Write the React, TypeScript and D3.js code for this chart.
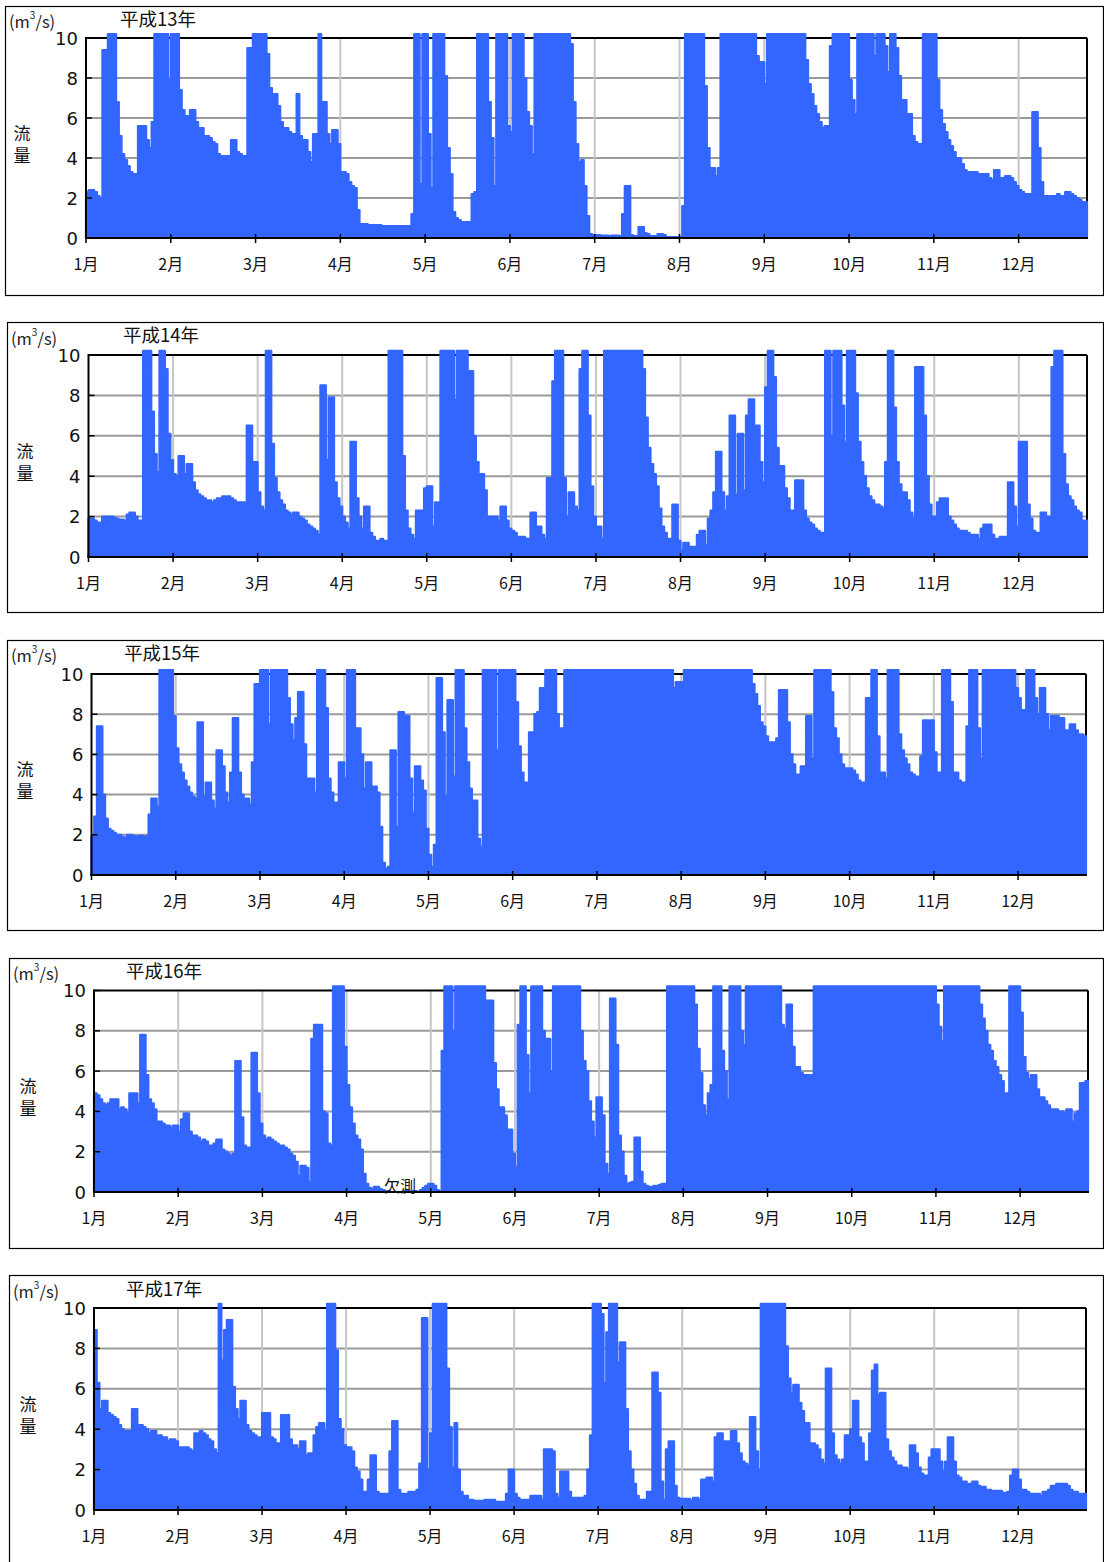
import React from "react";
import * as d3 from "d3";

// Daily discharge (m3/s). Values of 12 mean "off scale" (> 10, drawn clipped at the top).
const H13 = [
  2.3, 2.4, 2.4, 2.3, 2.1, 2.0, 9.4, 9.4, 12, 12,
  12, 6.8, 5.1, 4.2, 3.9, 3.6, 3.3, 3.2, 3.2, 5.6,
  5.6, 5.6, 4.9, 4.5, 5.8, 12, 12, 12, 12, 12,
  7.9, 12, 12, 12, 7.4, 6.4, 6.1, 6.1, 6.4, 6.4,
  5.8, 5.5, 5.5, 5.1, 5.1, 5.0, 4.8, 4.7, 4.2, 4.1,
  4.1, 4.1, 4.1, 4.9, 4.9, 4.3, 4.2, 4.1, 4.1, 9.5,
  9.5, 12, 12, 12, 12, 12, 9.2, 7.5, 7.2, 7.2,
  6.6, 5.8, 5.5, 5.5, 5.3, 5.2, 5.2, 7.2, 5.1, 4.9,
  4.9, 4.3, 3.8, 5.2, 5.2, 12, 6.8, 6.8, 5.2, 4.7,
  5.4, 5.4, 4.7, 3.3, 3.3, 3.2, 2.8, 2.6, 2.5, 1.4,
  0.7, 0.7, 0.7, 0.65, 0.65, 0.65, 0.65, 0.65, 0.6, 0.6,
  0.6, 0.6, 0.6, 0.6, 0.6, 0.6, 0.6, 0.6, 0.6, 1.2,
  12, 12, 2.7, 12, 12, 5.2, 2.5, 12, 12, 12,
  12, 8.1, 4.5, 3.2, 1.3, 1.0, 0.9, 0.8, 0.8, 0.8,
  0.8, 2.2, 2.3, 12, 12, 12, 12, 6.8, 5.0, 2.6,
  12, 12, 12, 12, 5.6, 5.3, 12, 12, 12, 12,
  8.0, 6.3, 5.6, 4.2, 12, 12, 12, 12, 12, 12,
  12, 12, 12, 12, 12, 12, 12, 9.7, 6.8, 4.7,
  3.8, 3.9, 2.6, 1.1, 0.2, 0.15, 0.15, 0.15, 0.12, 0.12,
  0.12, 0.1, 0.12, 0.12, 0.12, 0.1, 1.2, 2.6, 2.6, 0.15,
  0.1, 0.1, 0.55, 0.55, 0.25, 0.2, 0.1, 0.1, 0.1, 0.2,
  0.2, 0.15, 0.05, 0.05, 0.05, 0.05, 0.05, 0.05, 1.6, 12,
  12, 12, 12, 12, 12, 12, 7.6, 4.5, 3.5, 3.5,
  3.1, 3.5, 12, 12, 12, 12, 12, 12, 12, 12,
  12, 12, 12, 12, 12, 9.1, 8.8, 8.8, 7.7, 12,
  12, 12, 12, 12, 12, 12, 12, 12, 12, 12,
  12, 12, 12, 8.9, 7.7, 7.2, 6.6, 6.2, 5.8, 5.5,
  5.6, 5.6, 9.6, 12, 12, 12, 12, 12, 12, 7.9,
  6.9, 6.2, 12, 12, 12, 12, 12, 12, 9.1, 12,
  12, 12, 9.6, 8.3, 12, 12, 9.5, 8.1, 6.9, 6.9,
  6.2, 6.2, 5.1, 4.8, 4.7, 4.7, 12, 12, 12, 12,
  12, 7.9, 6.4, 5.7, 5.3, 4.9, 4.6, 4.3, 4.0, 4.0,
  3.7, 3.4, 3.3, 3.3, 3.3, 3.3, 3.2, 3.2, 3.2, 3.2,
  3.0, 2.9, 3.4, 3.4, 3.0, 3.0, 3.1, 3.1, 3.0, 2.8,
  2.6, 2.4, 2.3, 2.2, 2.2, 2.2, 6.3, 6.3, 4.5, 2.8,
  2.1, 2.1, 2.1, 2.1, 2.1, 2.2, 2.1, 2.1, 2.3, 2.3,
  2.2, 2.1, 2.0, 1.9, 1.8, 1.8,
];

const H14 = [
  1.9, 1.9, 1.8, 1.7, 1.7, 2.0, 2.0, 2.0, 2.0, 1.95,
  1.9, 1.85, 1.85, 1.8, 2.1, 2.2, 2.2, 2.0, 1.8, 1.8,
  12, 12, 12, 7.2, 5.1, 4.2, 12, 12, 9.3, 6.1,
  4.8, 4.1, 4.0, 5.0, 5.0, 4.1, 4.6, 4.6, 3.7, 3.3,
  3.1, 3.0, 2.9, 2.8, 2.8, 2.7, 2.8, 2.9, 2.9, 3.0,
  3.0, 3.0, 2.9, 2.8, 2.7, 2.7, 2.7, 2.7, 6.5, 6.5,
  4.7, 4.7, 3.2, 2.5, 2.3, 12, 12, 5.6, 3.9, 3.2,
  2.8, 2.6, 2.3, 2.2, 2.1, 2.2, 2.2, 2.0, 1.9, 1.8,
  1.6, 1.5, 1.4, 1.3, 1.1, 8.5, 8.5, 4.8, 7.9, 7.9,
  3.7, 2.9, 2.5, 2.0, 1.7, 1.4, 5.7, 5.7, 2.9, 2.0,
  1.4, 2.5, 2.5, 1.2, 1.0, 0.8, 0.8, 0.9, 0.8, 0.8,
  12, 12, 12, 12, 12, 5.0, 2.3, 1.4, 1.1, 0.9,
  2.3, 2.3, 2.3, 3.4, 3.5, 3.5, 1.5, 2.7, 2.7, 12,
  12, 12, 12, 12, 7.8, 12, 12, 12, 12, 9.2,
  9.2, 6.0, 4.7, 4.1, 4.1, 3.3, 2.0, 2.0, 2.0, 2.0,
  1.8, 2.5, 2.5, 1.8, 1.4, 1.3, 1.2, 1.0, 1.0, 1.0,
  0.9, 0.9, 2.2, 2.2, 1.5, 1.5, 1.1, 0.9, 3.9, 3.9,
  8.7, 12, 12, 12, 3.9, 2.0, 3.2, 3.2, 2.5, 2.3,
  9.3, 12, 12, 7.0, 3.5, 2.0, 1.5, 1.5, 0.9, 12,
  12, 12, 12, 12, 12, 12, 12, 12, 12, 12,
  12, 12, 12, 9.3, 6.9, 5.4, 4.6, 4.1, 3.5, 2.4,
  1.5, 1.2, 0.9, 0.9, 2.6, 2.6, 0.8, 0.3, 0.7, 0.7,
  0.5, 0.5, 0.5, 1.1, 1.3, 1.3, 0.6, 1.9, 2.3, 3.2,
  5.2, 5.2, 3.2, 2.3, 3.0, 7.0, 7.0, 3.1, 6.1, 6.1,
  3.3, 7.0, 7.8, 7.8, 6.5, 6.5, 4.7, 3.7, 8.4, 12,
  12, 8.9, 5.4, 4.5, 4.5, 3.4, 2.9, 2.3, 2.3, 3.8,
  3.8, 3.8, 2.3, 1.9, 1.7, 1.6, 1.4, 1.3, 1.2, 1.2,
  12, 12, 6.0, 12, 12, 12, 7.5, 5.7, 12, 12,
  12, 8.1, 5.7, 4.7, 4.0, 3.4, 3.0, 2.8, 2.6, 2.6,
  2.5, 2.4, 4.7, 12, 12, 7.4, 4.7, 3.6, 3.2, 3.2,
  2.8, 2.2, 1.9, 9.4, 9.4, 9.4, 7.0, 4.0, 2.6, 2.0,
  2.0, 2.7, 2.9, 2.9, 2.9, 2.0, 1.8, 1.6, 1.4, 1.3,
  1.3, 1.3, 1.2, 1.1, 1.1, 1.1, 0.9, 1.4, 1.6, 1.6,
  1.6, 1.1, 0.9, 0.9, 1.0, 1.0, 1.0, 3.7, 3.7, 2.5,
  1.5, 5.7, 5.7, 5.7, 2.6, 1.9, 1.3, 1.2, 1.2, 2.2,
  2.2, 2.0, 2.0, 9.4, 12, 12, 12, 5.1, 3.6, 3.0,
  2.8, 2.5, 2.3, 2.2, 1.8, 1.8,
];

const H15 = [
  1.9, 2.9, 7.4, 7.4, 4.0, 2.8, 2.3, 2.2, 2.1, 2.0,
  2.0, 1.9, 1.85, 2.0, 2.0, 1.95, 1.9, 1.95, 1.95, 1.9,
  1.95, 3.0, 3.8, 3.8, 3.4, 12, 12, 12, 12, 12,
  7.9, 6.3, 5.5, 5.1, 4.7, 4.4, 4.1, 3.9, 3.8, 7.6,
  7.6, 3.9, 4.6, 4.6, 3.7, 3.3, 6.2, 6.2, 5.4, 4.1,
  3.6, 5.1, 7.8, 7.8, 5.1, 4.0, 3.8, 3.8, 3.5, 5.6,
  9.5, 9.5, 12, 12, 12, 7.5, 12, 12, 12, 12,
  12, 12, 8.8, 7.5, 6.7, 7.8, 9.1, 9.1, 6.5, 4.8,
  4.8, 4.8, 4.1, 12, 12, 12, 8.3, 4.8, 4.1, 3.6,
  3.6, 5.6, 5.6, 4.8, 12, 12, 12, 7.3, 7.3, 6.0,
  4.3, 5.6, 5.6, 4.4, 4.4, 4.1, 2.4, 0.6, 0.3, 0.4,
  6.2, 6.2, 2.4, 8.1, 8.1, 7.9, 7.9, 4.8, 3.1, 5.4,
  5.4, 4.7, 4.2, 2.3, 1.0, 0.4, 1.5, 9.8, 9.8, 7.1,
  3.9, 8.7, 8.7, 4.9, 12, 12, 12, 7.3, 5.6, 4.3,
  3.7, 3.7, 1.8, 1.4, 12, 12, 12, 12, 12, 6.2,
  12, 12, 12, 12, 12, 12, 8.6, 6.4, 5.1, 4.6,
  4.6, 7.1, 7.1, 8.0, 8.1, 9.3, 9.3, 12, 12, 12,
  12, 8.0, 7.3, 7.3, 12, 12, 12, 12, 12, 12,
  12, 12, 12, 12, 12, 12, 12, 12, 12, 12,
  12, 12, 12, 12, 12, 12, 12, 12, 12, 12,
  12, 12, 12, 12, 12, 12, 12, 12, 12, 12,
  12, 12, 12, 12, 9.3, 9.6, 9.6, 9.6, 12, 12,
  12, 12, 12, 12, 12, 12, 12, 12, 12, 12,
  12, 12, 12, 12, 12, 12, 12, 12, 12, 12,
  12, 12, 12, 9.5, 9.0, 8.4, 7.6, 7.4, 6.9, 6.6,
  6.6, 6.6, 6.8, 9.2, 9.2, 9.2, 7.6, 6.0, 5.5, 5.0,
  5.0, 5.4, 5.4, 7.9, 7.9, 5.8, 12, 12, 12, 12,
  12, 12, 9.1, 7.3, 6.8, 6.0, 5.5, 5.3, 5.3, 5.3,
  5.2, 5.0, 4.7, 4.6, 4.6, 8.8, 8.8, 12, 12, 6.9,
  5.1, 5.1, 4.8, 12, 12, 12, 12, 7.0, 6.2, 5.8,
  5.5, 5.1, 5.0, 4.9, 4.9, 5.9, 7.7, 7.7, 7.7, 7.7,
  6.1, 5.1, 5.1, 12, 12, 12, 8.6, 5.1, 5.1, 4.7,
  4.6, 4.6, 7.4, 12, 12, 12, 7.3, 5.8, 12, 12,
  12, 12, 12, 12, 12, 12, 12, 12, 12, 12,
  9.3, 8.8, 8.2, 8.2, 12, 12, 12, 8.8, 8.0, 9.3,
  9.3, 8.0, 7.2, 7.9, 7.9, 7.9, 7.8, 7.8, 7.2, 7.2,
  7.5, 7.5, 7.2, 7.0, 7.0, 6.9,
];

const H16 = [
  4.9, 4.8, 4.6, 4.4, 4.3, 4.4, 4.6, 4.6, 4.6, 4.1,
  4.2, 4.1, 3.9, 4.9, 4.9, 4.9, 4.4, 7.8, 7.8, 5.8,
  4.6, 4.4, 4.1, 3.5, 3.5, 3.4, 3.3, 3.3, 3.2, 3.3,
  3.3, 3.0, 3.6, 3.9, 3.9, 3.0, 2.8, 2.8, 2.7, 2.5,
  2.6, 2.5, 2.3, 2.3, 2.4, 2.6, 2.6, 2.1, 2.0, 1.9,
  1.8, 1.9, 6.5, 6.5, 3.7, 2.3, 2.2, 2.2, 6.9, 6.9,
  4.9, 3.4, 2.8, 2.6, 2.7, 2.6, 2.5, 2.4, 2.3, 2.3,
  2.2, 2.1, 1.9, 1.8, 1.5, 0.8, 1.3, 1.3, 1.2, 0.5,
  7.6, 8.3, 8.3, 8.3, 4.0, 3.9, 2.4, 2.3, 12, 12,
  12, 12, 7.2, 5.3, 4.2, 3.4, 2.8, 2.6, 2.1, 0.9,
  0.4, 0.2, 0.15, 0.25, 0.25, 0.15, 0.1, 0.05, 0.05, 0,
  0, 0, 0, 0, 0.05, 0.1, 0.05, 0.05, 0.05, 0,
  0.1, 0.2, 0.3, 0.4, 0.4, 0.3, 0.1, 0.05, 7.0, 12,
  12, 12, 8.0, 12, 12, 12, 12, 12, 12, 12,
  12, 12, 12, 12, 9.5, 9.5, 9.5, 6.4, 5.1, 4.2,
  4.2, 3.8, 3.1, 3.1, 1.9, 1.25, 8.3, 12, 12, 6.8,
  4.9, 12, 12, 12, 12, 8.0, 7.6, 7.6, 6.0, 12,
  12, 12, 12, 12, 12, 12, 12, 12, 12, 8.0,
  6.5, 6.0, 4.5, 3.5, 2.7, 4.7, 4.7, 3.8, 1.4, 0.9,
  9.6, 9.6, 7.3, 2.8, 2.0, 0.8, 0.4, 0.45, 0.5, 2.7,
  2.7, 1.0, 0.4, 0.3, 0.25, 0.25, 0.3, 0.3, 0.35, 0.4,
  0.4, 12, 12, 12, 12, 12, 12, 12, 12, 12,
  12, 9.3, 7.1, 5.9, 4.3, 3.8, 4.9, 5.3, 12, 12,
  12, 7.0, 6.0, 4.6, 12, 12, 12, 12, 8.0, 7.3,
  12, 12, 12, 12, 12, 12, 12, 12, 12, 12,
  12, 12, 12, 8.3, 8.1, 9.3, 9.3, 7.2, 6.2, 6.2,
  5.9, 5.8, 5.8, 5.8, 5.8, 12, 12, 12, 12, 12,
  12, 12, 12, 12, 12, 12, 12, 12, 12, 12,
  12, 12, 12, 12, 12, 12, 12, 12, 12, 12,
  12, 12, 12, 12, 12, 12, 12, 12, 12, 12,
  12, 12, 12, 12, 12, 12, 12, 12, 12, 12,
  9.3, 8.2, 7.5, 12, 12, 12, 12, 12, 12, 12,
  12, 12, 12, 12, 12, 12, 9.3, 8.6, 8.0, 7.3,
  7.0, 6.5, 6.2, 5.8, 5.5, 4.9, 4.9, 12, 12, 12,
  12, 8.9, 6.7, 5.9, 5.6, 5.8, 5.8, 5.1, 4.7, 4.7,
  4.5, 4.3, 4.1, 4.1, 4.1, 4.0, 4.0, 3.9, 4.1, 4.1,
  3.5, 3.9, 4.0, 5.4, 5.4, 5.5,
];

const H17 = [
  8.9, 6.3, 5.0, 5.4, 5.4, 4.8, 4.7, 4.6, 4.5, 4.2,
  4.0, 3.9, 3.9, 3.9, 5.0, 5.0, 4.2, 4.2, 4.1, 4.0,
  3.8, 3.9, 3.9, 3.7, 3.7, 3.6, 3.6, 3.4, 3.5, 3.5,
  3.4, 3.1, 3.1, 3.1, 3.1, 3.0, 2.9, 3.8, 3.8, 3.9,
  3.8, 3.7, 3.5, 3.4, 3.0, 2.8, 12, 7.4, 8.9, 9.4,
  9.4, 6.1, 5.0, 4.5, 5.4, 5.4, 4.2, 3.9, 3.8, 3.7,
  3.6, 3.6, 4.8, 4.8, 4.8, 3.6, 3.5, 3.3, 3.3, 4.7,
  4.7, 4.7, 3.5, 3.2, 3.2, 3.0, 3.4, 3.4, 2.7, 2.8,
  2.8, 3.7, 4.1, 4.3, 4.3, 3.9, 12, 12, 12, 7.9,
  4.5, 4.0, 3.2, 3.1, 3.1, 2.9, 2.1, 1.9, 1.5, 0.9,
  0.9, 1.5, 2.7, 2.7, 0.9, 0.8, 0.8, 0.8, 0.8, 2.9,
  4.4, 4.4, 1.0, 0.8, 0.8, 0.8, 0.9, 0.9, 0.9, 1.0,
  2.3, 9.5, 9.5, 2.0, 3.8, 12, 12, 12, 12, 12,
  7.0, 4.1, 2.1, 4.3, 2.0, 0.9, 0.7, 0.7, 0.5, 0.5,
  0.45, 0.45, 0.45, 0.45, 0.5, 0.5, 0.5, 0.5, 0.4, 0.4,
  0.4, 0.4, 0.8, 2.0, 2.0, 0.8, 0.6, 0.5, 0.5, 0.5,
  0.5, 0.7, 0.7, 0.7, 0.7, 0.5, 3.0, 3.0, 3.0, 2.9,
  0.8, 0.6, 1.9, 1.9, 1.9, 0.9, 0.6, 0.6, 0.6, 0.6,
  0.6, 0.7, 2.0, 3.7, 12, 12, 12, 9.7, 6.3, 8.8,
  12, 12, 12, 7.3, 8.3, 8.3, 5.0, 2.9, 2.0, 1.3,
  0.7, 0.5, 0.5, 0.5, 0.9, 0.9, 6.8, 6.8, 5.8, 1.4,
  0.5, 3.0, 3.4, 3.4, 1.2, 0.6, 0.55, 0.55, 0.55, 0.55,
  0.45, 0.6, 0.6, 0.5, 1.5, 1.5, 1.6, 1.6, 1.4, 3.6,
  3.8, 3.8, 3.4, 3.4, 3.4, 3.9, 3.9, 3.3, 2.8, 2.4,
  2.3, 2.2, 4.6, 4.6, 2.9, 2.0, 12, 12, 12, 12,
  12, 12, 12, 12, 12, 8.1, 6.5, 5.8, 6.2, 6.2,
  5.3, 4.9, 4.3, 4.3, 3.3, 3.3, 3.2, 3.0, 2.5, 2.3,
  7.0, 7.0, 3.8, 2.7, 2.5, 2.3, 2.5, 3.7, 3.7, 4.0,
  5.4, 5.4, 3.6, 3.3, 2.4, 2.4, 3.8, 6.9, 7.2, 5.7,
  5.8, 5.8, 3.5, 2.9, 2.6, 2.4, 2.2, 2.2, 2.1, 2.1,
  2.0, 3.2, 3.2, 2.8, 2.1, 1.8, 1.7, 1.7, 2.6, 3.0,
  3.0, 3.0, 2.4, 1.9, 2.4, 3.6, 3.6, 2.4, 1.7, 1.6,
  1.4, 1.4, 1.3, 1.3, 1.4, 1.4, 1.2, 1.15, 1.15, 1.0,
  1.0, 0.95, 0.95, 0.95, 0.95, 0.85, 0.85, 0.9, 1.7, 2.0,
  2.0, 1.5, 1.0, 1.0, 0.9, 0.8, 0.8, 0.8, 0.8, 0.7,
  0.9, 0.9, 1.0, 1.2, 1.2, 1.3, 1.3, 1.3, 1.3, 1.2,
  1.0, 0.9, 0.9, 0.8, 0.8, 0.8,
];

const YEAR_TITLES = ["平成13年", "平成14年", "平成15年", "平成16年", "平成17年"];
const SERIES = [H13, H14, H15, H16, H17];
const MONTH_LABELS = ["1月", "2月", "3月", "4月", "5月", "6月", "7月", "8月", "9月", "10月", "11月", "12月"];
const Y_TICKS = [0, 2, 4, 6, 8, 10];
const GRID_Y = [2, 4, 6, 8];
const SLOTS = 366;
const LABEL_EVERY = 31;
const Y_MAX = 10;
const MISSING_NOTE = "欠測";

// Layout (pixel geometry of each framed panel)
const LAYOUT = [
  { box: [5.5, 6.5, 1103.5, 295.5], plot: [86, 38, 1087, 238], title: [120, 18], unit: [9, 21], flowX: 22 },
  { box: [7.5, 322.5, 1103.5, 612.5], plot: [88.5, 355, 1087, 557], title: [123, 334], unit: [11, 338], flowX: 25 },
  { box: [7.5, 640.5, 1103.5, 930.5], plot: [91.5, 674, 1086, 875], title: [124, 652], unit: [11, 655], flowX: 25 },
  { box: [9.5, 958.5, 1103.5, 1248.5], plot: [94, 990.5, 1088, 1192], title: [126, 970], unit: [13, 973], flowX: 28 },
  { box: [9.5, 1275.5, 1103.5, 1620], plot: [94, 1308, 1086, 1510], title: [126, 1288], unit: [13, 1291], flowX: 28 },
];

const BLUE = "#3366ff";
const CJK = "'Noto Sans CJK JP', 'Noto Sans', sans-serif";
const NUM = "'DejaVu Sans', 'Liberation Sans', sans-serif";

function Panel({ idx }: { idx: number }) {
  const L = LAYOUT[idx];
  const data = SERIES[idx];
  const [l, t, r, b] = L.plot;
  const x = d3.scaleBand<number>().domain(d3.range(SLOTS)).range([l, r]).paddingInner(0).paddingOuter(0);
  const bw = x.bandwidth();
  const y = d3.scaleLinear().domain([0, Y_MAX]).range([b, t]);
  const cap = (v: number) => Math.min(v, Y_MAX + 0.2);

  const pts: [number, number][] = data.map((v, i) => [x(i) as number, v]);
  pts.push([Math.min((x(0) as number) + data.length * bw, r), data[data.length - 1]]);
  const area = d3
    .area<[number, number]>()
    .x((d) => d[0])
    .y0(y(0))
    .y1((d) => y(cap(d[1])))
    .curve(d3.curveStepAfter);

  const gridXs = d3.range(0, 12).map((k) => (x(k * LABEL_EVERY) as number));
  const midY = (t + b) / 2;

  return (
    <g>
      <rect x={L.box[0]} y={L.box[1]} width={L.box[2] - L.box[0]} height={L.box[3] - L.box[1]} fill="#fff" stroke="#000" strokeWidth={1.2} />
      {GRID_Y.map((v) => (
        <line key={"gy" + v} x1={l} x2={r} y1={y(v)} y2={y(v)} stroke="#9a9a9a" strokeWidth={2} />
      ))}
      {gridXs.slice(1).map((gx, k) => (
        <line key={"gx" + k} x1={gx} x2={gx} y1={t} y2={b} stroke="#c6c6c6" strokeWidth={2} />
      ))}
      <line x1={l} x2={r} y1={t} y2={t} stroke="#000" strokeWidth={2} />
      <line x1={r} x2={r} y1={t} y2={b} stroke="#000" strokeWidth={2} />
      <path d={area(pts) || ""} fill={BLUE} stroke={BLUE} strokeWidth={2.2} strokeLinejoin="round" />
      <line x1={l} x2={l} y1={t - 1} y2={b + 1} stroke="#000" strokeWidth={2} />
      <line x1={l - 1} x2={r + 1} y1={b} y2={b} stroke="#000" strokeWidth={2} />
      {Y_TICKS.map((v) => (
        <line key={"yt" + v} x1={l} x2={l + 6} y1={y(v)} y2={y(v)} stroke="#000" strokeWidth={1.5} />
      ))}
      {gridXs.map((gx, k) => (
        <line key={"xt" + k} x1={gx} x2={gx} y1={b - 4} y2={b + 5} stroke="#000" strokeWidth={1.5} />
      ))}
      {Y_TICKS.map((v) => (
        <text key={"yl" + v} x={l - 8} y={y(v)} textAnchor="end" dominantBaseline="central" fontFamily={NUM} fontSize={18} fill="#111">
          {v}
        </text>
      ))}
      {gridXs.map((gx, k) => (
        <text key={"xl" + k} x={gx} y={b + 25} textAnchor="middle" dominantBaseline="central" fontFamily={CJK} fontSize={16} fill="#111">
          {MONTH_LABELS[k]}
        </text>
      ))}
      <text x={L.title[0]} y={L.title[1]} dominantBaseline="central" fontFamily={CJK} fontSize={18.5} fill="#111">
        {YEAR_TITLES[idx]}
      </text>
      <text x={L.unit[0]} y={L.unit[1]} dominantBaseline="central" fontFamily={CJK} fontSize={16.5} fill="#222">
        (m<tspan dy={-7} fontSize={10}>3</tspan>
        <tspan dy={7}>/s)</tspan>
      </text>
      <text x={L.flowX} y={midY - 6} textAnchor="middle" dominantBaseline="central" fontFamily={CJK} fontSize={17} fill="#111">
        流
      </text>
      <text x={L.flowX} y={midY + 16} textAnchor="middle" dominantBaseline="central" fontFamily={CJK} fontSize={17} fill="#111">
        量
      </text>
      {idx === 3 && (
        <text x={400} y={1185} textAnchor="middle" dominantBaseline="central" fontFamily={CJK} fontSize={16} fill="#111">
          {MISSING_NOTE}
        </text>
      )}
    </g>
  );
}

export default function App() {
  return (
    <svg
      width={1104}
      height={1562}
      viewBox="0 0 1104 1562"
      style={{ position: "absolute", left: 0, top: 0, background: "#fff" }}
    >
      <rect x={0} y={0} width={1104} height={1562} fill="#fff" />
      {SERIES.map((_, i) => (
        <Panel key={i} idx={i} />
      ))}
    </svg>
  );
}
